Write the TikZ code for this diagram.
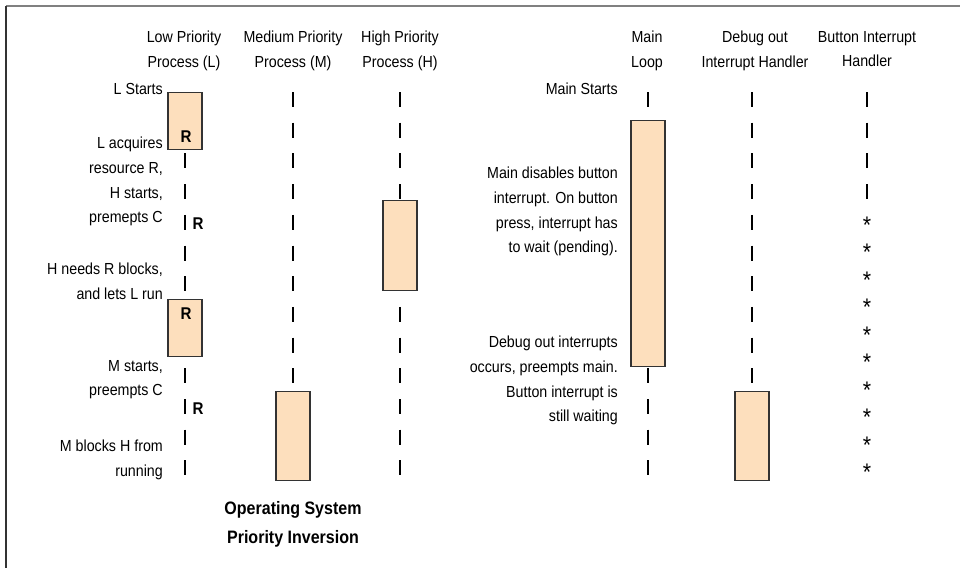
\documentclass[tikz,border=0pt]{standalone}
\usepackage{fontspec}
\setmainfont{Liberation Sans}[FakeStretch=0.89]
\usetikzlibrary{positioning}
\definecolor{peach}{HTML}{FDDFBD}

\begin{document}
\begin{tikzpicture}[
    x=1pt, y=-1pt,
    lifeline/.style={line width=2pt, dash pattern=on 15pt off 15.7pt},
    task/.style={rectangle, draw=black!80, line width=1.1pt, fill=peach, minimum width=34pt, inner sep=0pt, anchor=north},
    head/.style={align=center, anchor=north, inner sep=0pt, font=\fontsize{16}{24.7}\selectfont},
    note/.style={align=right, anchor=north east, inner sep=0pt, font=\fontsize{16}{24.7}\selectfont},
    res/.style={inner sep=0pt, font=\fontsize{17}{20}\selectfont\bfseries},
    pend/.style={inner sep=0pt, anchor=base, font=\fontsize{24}{26}\selectfont},
    title/.style={align=center, anchor=north, inner sep=0pt, font=\fontsize{18}{29}\selectfont\bfseries}
]
\useasboundingbox (0,0) rectangle (960,568);

% Frame
\coordinate (frametl) at (6,6);
\coordinate (frametr) at (960,6);
\coordinate (framebl) at (6,568);
\draw[black!50, line width=1.5pt] (frametl) -- (frametr);
\draw[black!80, line width=2pt] (frametl) -- (framebl);

% Operating system side
\node[head] (lhead) at (184,31) {Low Priority\\Process (L)};
\node[head] (mhead) at (293,31) {Medium Priority\\Process (M)};
\node[head] (hhead) at (400,31) {High Priority\\Process (H)};

\coordinate (ltop) at (185,92);
\coordinate (lend) at (185,480);
\coordinate (mtop) at (293,92);
\coordinate (mend) at (293,480);
\coordinate (htop) at (400,92);
\coordinate (hend) at (400,480);

\draw[lifeline] (ltop) -- (lend);
\draw[lifeline] (mtop) -- (mend);
\draw[lifeline] (htop) -- (hend);

\node[task, minimum height=57pt] (lrun1) at (185,92) {};
\node[task, minimum height=57pt] (lrun2) at (185,299) {};
\node[task, minimum height=90pt] (hrun) at (400,200) {};
\node[task, minimum height=89pt] (mrun) at (293,391) {};

\node[res] (rheld1) at (186,136.5) {R};
\node[res] (rheld2) at (186,314) {R};
\node[res] (rwait1) at (198,223.5) {R};
\node[res] (rwait2) at (198,409) {R};

\node[note] (lstart) at (163,83) {L Starts};
\node[note] (lacquire) at (163,137) {L acquires\\resource R,\\H starts,\\premepts C};
\node[note] (hneeds) at (163,263) {H needs R blocks,\\and lets L run};
\node[note] (mstart) at (163,360) {M starts,\\preempts C};
\node[note] (mblocks) at (163,440) {M blocks H from\\running};

\node[title] (ostitle) at (293,501) {Operating System\\Priority Inversion};

% Embedded side
\node[head] (mainhead) at (647,31) {Main\\Loop};
\node[head] (dbghead) at (755,31) {Debug out\\Interrupt Handler};
\node[head] (btnhead) at (867,31) {Button Interrupt\\Handler};

\coordinate (maintop) at (648,92);
\coordinate (mainend) at (648,480);
\coordinate (dbgtop) at (752,92);
\coordinate (dbgend) at (752,480);
\coordinate (btntop) at (867,92);
\coordinate (btnend) at (867,199);

\draw[lifeline] (maintop) -- (mainend);
\draw[lifeline] (dbgtop) -- (dbgend);
\draw[lifeline] (btntop) -- (btnend);

\node[task, minimum height=246pt] (mainrun) at (648,120) {};
\node[task, minimum height=89pt] (dbgrun) at (752,391) {};

\foreach \k in {0,...,9}
    \node[pend] (pend\k) at (867,{233+27.55*\k}) {*};

\node[note] (mainstart) at (618,83) {Main Starts};
\node[note] (maindis) at (618,167) {Main disables button\\interrupt. On button\\press, interrupt has\\to wait (pending).};
\node[note] (dbgocc) at (618,336) {Debug out interrupts\\occurs, preempts main.\\Button interrupt is\\still waiting};

\end{tikzpicture}
\end{document}
